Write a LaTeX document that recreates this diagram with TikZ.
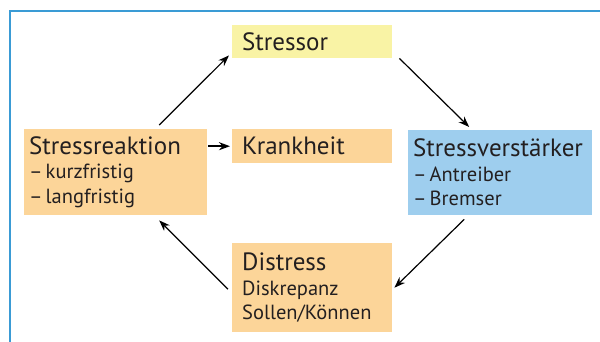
\documentclass[tikz,border=0pt]{standalone}
\usepackage{fontspec}
\setmainfont{PT Sans}
\usepackage{tikz}
\usetikzlibrary{arrows.meta}

\definecolor{frameblue}{RGB}{58,155,213}
\definecolor{boxyellow}{RGB}{249,243,165}
\definecolor{boxorange}{RGB}{252,213,153}
\definecolor{boxblue}{RGB}{158,206,238}
\definecolor{textgray}{RGB}{35,31,32}

\newcommand{\bigline}[1]{{\fontsize{25}{27}\selectfont #1}}
\newcommand{\dashitem}[1]{--\hspace{3pt}#1}

\begin{document}
\begin{tikzpicture}[x=1pt,y=-1pt]
    \tikzstyle{box} = [rectangle, anchor=north west, align=left, inner ysep=0pt, text=textgray, font=\fontsize{20.5}{24.5}\selectfont]
    \tikzstyle{arrow} = [line width=1.2pt, -{Stealth[length=11pt,width=8pt]}]

    \useasboundingbox (0,0) rectangle (600,342);
    \draw [frameblue, line width=1.6pt] (10,342) -- (10,11) -- (600,11);

    \node (stressor) [box, fill=boxyellow, inner xsep=10pt, minimum width=160pt, minimum height=33pt, text width=140pt] at (232,25) {\bigline{Stressor}};
    \node (reaktion) [box, fill=boxorange, inner xsep=5pt, minimum width=183pt, minimum height=86pt, text width=173pt] at (24,129) {\bigline{Stressreaktion}\\ \dashitem{kurzfristig}\\ \dashitem{langfristig}};
    \node (krankheit) [box, fill=boxorange, inner xsep=10pt, minimum width=160pt, minimum height=34pt, text width=140pt] at (232,129) {\bigline{Krankheit}};
    \node (verstaerker) [box, fill=boxblue, inner xsep=5pt, minimum width=184pt, minimum height=85pt, text width=174pt] at (408,130) {\bigline{Stressverstärker}\\ \dashitem{Antreiber}\\ \dashitem{Bremser}};
    \node (distress) [box, fill=boxorange, inner xsep=10pt, minimum width=160pt, minimum height=89pt, text width=140pt] at (232,243) {\bigline{Distress}\\ Diskrepanz\\ Sollen/Können};

    \draw [arrow] ([xshift=43.5pt,yshift=4pt]reaktion.north) -- ([xshift=-3pt,yshift=3pt]stressor.south west);
    \draw [arrow] ([xshift=7pt]stressor.south east) -- ([xshift=-31pt,yshift=3pt]verstaerker.north);
    \draw [arrow] ([xshift=-36pt,yshift=-4pt]verstaerker.south) -- ([xshift=2pt]distress.east);
    \draw [arrow] ([xshift=-4pt,yshift=-1.5pt]distress.west) -- ([xshift=43.5pt,yshift=-5pt]reaktion.south);
    \draw [arrow, line width=2pt] ([xshift=1pt]reaktion.east |- krankheit.west) -- ([xshift=-2pt]krankheit.west);
\end{tikzpicture}
\end{document}
